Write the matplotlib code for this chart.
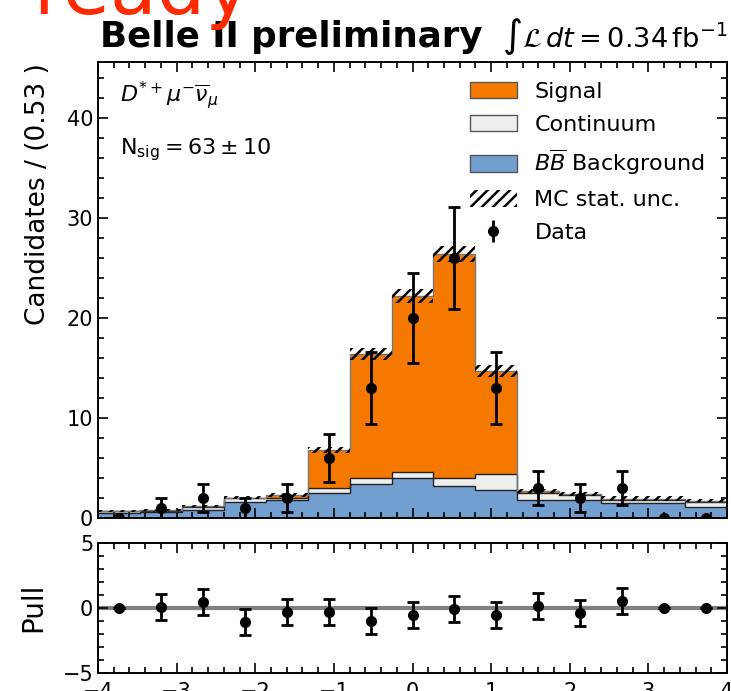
import numpy as np
import matplotlib
matplotlib.use("Agg")
import matplotlib.pyplot as plt
from matplotlib.patches import Patch
from matplotlib.ticker import MultipleLocator

# ---------------- data ----------------
edges = np.linspace(-4, 4, 16)
bb_bkg = [0.55, 0.60, 0.85, 1.60, 1.77, 2.55, 3.43, 4.03, 3.17, 2.80, 1.80, 1.80, 1.47, 1.47, 1.13]
continuum = [0.12, 0.15, 0.30, 0.40, 0.20, 0.50, 0.60, 0.60, 0.86, 1.57, 0.73, 0.50, 0.33, 0.33, 0.50]
signal = [0.08, 0.05, 0.05, 0.05, 0.38, 3.72, 12.37, 17.62, 22.34, 10.38, 0.15, 0.15, 0.13, 0.13, 0.12]
mc_unc = [0.10, 0.10, 0.12, 0.15, 0.20, 0.30, 0.60, 0.70, 0.80, 0.60, 0.20, 0.20, 0.25, 0.25, 0.18]
data = [0, 1, 2, 1, 2, 6, 13, 20, 26, 13, 3, 2, 3, 0, 0]
pull = [0, 0.08, 0.46, -1.07, -0.27, -0.28, -0.97, -0.53, -0.08, -0.50, 0.15, -0.37, 0.57, 0, 0]

c_sig = "#f57900"
c_cont = "#eeeeec"
c_bb = "#729fcf"

plt.rcParams["hatch.linewidth"] = 1.8
plt.rcParams["font.family"] = ["DejaVu Sans"]
plt.rcParams["mathtext.fontset"] = "dejavusans"

W, H = 731, 691
fig = plt.figure(figsize=(W / 100, H / 100), dpi=100)

def fx(px):
    return px / W

def fy(py):
    return 1 - py / H

ax = fig.add_axes([fx(98), fy(518), fx(727) - fx(98), fy(62) - fy(518)])
axp = fig.add_axes([fx(98), fy(673), fx(727) - fx(98), fy(543) - fy(673)])

centers = 0.5 * (edges[1:] + edges[:-1])
bb = np.array(bb_bkg)
co = np.array(continuum)
si = np.array(signal)
lvl1 = bb
lvl2 = bb + co
lvl3 = bb + co + si

ax.stairs(lvl1, edges, baseline=0, fill=True, color=c_bb, zorder=1)
ax.stairs(lvl2, edges, baseline=lvl1, fill=True, color=c_cont, zorder=1)
ax.stairs(lvl3, edges, baseline=lvl2, fill=True, color=c_sig, zorder=1)
ax.stairs(lvl1, edges, baseline=None, color="#222222", lw=1.0, zorder=2)
ax.stairs(lvl2, edges, baseline=None, color="#222222", lw=1.0, zorder=2)
ax.stairs(lvl3, edges, baseline=None, color="#777777", lw=1.0, zorder=2)
unc = np.array(mc_unc)
ax.stairs(lvl3 + unc, edges, baseline=lvl3 - unc, fill=True, facecolor="none",
          edgecolor="black", hatch="///", lw=0, zorder=3)

d = np.array(data, dtype=float)
ax.errorbar(centers, d, yerr=np.sqrt(d), fmt="o", color="black", ms=7,
            elinewidth=2, capsize=4, capthick=2, zorder=5)

ax.set_xlim(-4, 4)
ax.set_ylim(0, 45.6)
ax.yaxis.set_major_locator(MultipleLocator(10))
ax.yaxis.set_minor_locator(MultipleLocator(2))
ax.xaxis.set_major_locator(MultipleLocator(1))
ax.xaxis.set_minor_locator(MultipleLocator(0.2))
ax.tick_params(labelbottom=False)

# pull panel
p = np.array(pull)
perr = np.where(d > 0, 1.0, 0.0)
axp.axhline(0, color="#808080", lw=3, zorder=1)
axp.errorbar(centers, p, yerr=perr, fmt="o", color="black", ms=7,
             elinewidth=2, capsize=4, capthick=2, zorder=5)
axp.set_xlim(-4, 4)
axp.set_ylim(-5, 5)
axp.yaxis.set_major_locator(MultipleLocator(5))
axp.yaxis.set_minor_locator(MultipleLocator(1))
axp.xaxis.set_major_locator(MultipleLocator(1))
axp.xaxis.set_minor_locator(MultipleLocator(0.2))

for a in (ax, axp):
    a.tick_params(which="both", direction="in", top=True, right=True,
                  labelsize=15, width=1.2)
    a.tick_params(which="major", length=7)
    a.tick_params(which="minor", length=4)
    for s in a.spines.values():
        s.set_linewidth(1.4)
axp.tick_params(axis="x", which="major", pad=6.5)

# legend
handles = [
    Patch(facecolor=c_sig, edgecolor="#555555", lw=1),
    Patch(facecolor=c_cont, edgecolor="#555555", lw=1),
    Patch(facecolor=c_bb, edgecolor="#555555", lw=1),
    Patch(facecolor="none", edgecolor="black", hatch="///", lw=0),
]
eb = ax.errorbar([], [], yerr=[], fmt="o", color="black", ms=7, elinewidth=2,
                 capsize=4, capthick=2)
handles.append(eb)
labels = ["Signal", "Continuum", r"$B\overline{B}$ Background", "MC stat. unc.", "Data"]
fig.legend(handles, labels, loc="upper left", bbox_to_anchor=(fx(470), fy(82)),
           frameon=False, fontsize=16, handlelength=2.1, handleheight=0.75,
           handletextpad=0.8, labelspacing=0.58, borderpad=0, borderaxespad=0)

# texts
fig.text(fx(120), fy(95), r"$D^{*+}\mu^{-}\overline{\nu}_{\mu}$", fontsize=16, va="center")
fig.text(fx(120), fy(150), r"$\mathrm{N_{sig}} = 63 \pm 10$", fontsize=16, va="center")
fig.text(fx(100), fy(47), "Belle II preliminary", fontsize=25.7, fontweight="bold", va="baseline")
fig.text(fx(727), fy(47), r"$\int\mathcal{L}\,dt = 0.34\,\mathrm{fb}^{-1}$", fontsize=19.6,
         ha="right", va="baseline")
fig.text(fx(38), fy(63), "Candidates / (0.53 )", fontsize=19, rotation=90,
         ha="center", va="top")
fig.text(fx(33), fy(607), "Pull", fontsize=20, rotation=90, ha="center", va="center")
fig.text(fx(33), fy(14), "ready", fontsize=55, color="#ff2a00", va="baseline")

fig.savefig("out.png", dpi=100)
